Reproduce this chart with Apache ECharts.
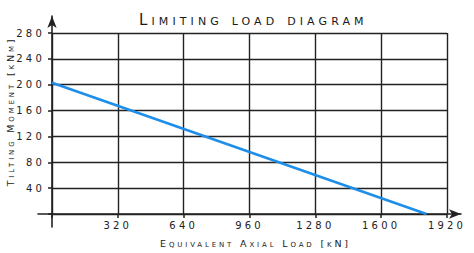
<!DOCTYPE html>
<html>
<head>
<meta charset="utf-8">
<script src="https://cdn.jsdelivr.net/npm/echarts@6/dist/echarts.min.js"></script>
<style>
html,body{margin:0;padding:0;background:#fff;}
#main{width:474px;height:253px;}
#main text{font-variant:small-caps !important;}
#main text[style*="15px"]{letter-spacing:4.1px !important;}
#main text[style*="10px"]{letter-spacing:3.2px !important;}
#main text[style*="9.5px"]{letter-spacing:2.85px !important;}
</style>
</head>
<body>
<div id="main"></div>
<script>
// Data
var titleText = 'Limiting load diagram';
var xName = 'Equivalent Axial Load [kN]';
var yName = 'Tilting Moment [kNm]';
var xTicks = [0, 320, 640, 960, 1280, 1600, 1920];
var yTicks = [0, 40, 80, 120, 160, 200, 240, 280];
var loadKN = [0, 1820];
var momentKNm = [203, 0];

var xMin = xTicks[0], xMax = xTicks[xTicks.length - 1], xStep = xTicks[1] - xTicks[0];
var yMin = yTicks[0], yMax = yTicks[yTicks.length - 1], yStep = yTicks[1] - yTicks[0];

var ink = '#222';
var fam = 'DejaVu Sans';
var chart = echarts.init(document.getElementById('main'), null, {renderer: 'svg'});
var lbl = function (v) { return v === 0 ? '' : String(v); };

chart.setOption({
  animation: false,
  backgroundColor: '#fff',
  title: {
    text: titleText, left: 134, top: 7,
    textStyle: {fontFamily: fam, fontSize: 15, fontWeight: 'normal', color: '#1a1a1a'}
  },
  grid: [
    {left: 52, right: 27, top: 33, bottom: 39, outerBoundsMode: 'none', containLabel: false},
    {left: 38, right: 13, top: 33, bottom: 39, outerBoundsMode: 'none', containLabel: false},
    {left: 52, right: 27, top: 16, bottom: 26, outerBoundsMode: 'none', containLabel: false}
  ],
  xAxis: [
    {
      gridIndex: 0, type: 'value', min: xMin, max: xMax, interval: xStep,
      name: xName, nameLocation: 'middle', nameGap: 24,
      nameTextStyle: {fontFamily: fam, fontSize: 9.5, color: ink, padding: [0, 0, 0, 12]},
      axisLine: {show: false},
      axisTick: {show: true, length: 4, lineStyle: {color: ink, width: 1.5}},
      axisLabel: {formatter: lbl, margin: 6, fontFamily: fam, fontSize: 10, color: ink},
      splitLine: {show: true, lineStyle: {color: ink, width: 1.4}}
    },
    {
      gridIndex: 1, type: 'value', min: 0, max: 1,
      axisLine: {show: true, symbol: ['none', 'arrow'], symbolSize: [7, 12], lineStyle: {color: ink, width: 1.6}},
      axisTick: {show: false}, axisLabel: {show: false}, splitLine: {show: false}
    },
    {
      gridIndex: 2, type: 'value', min: 0, max: 1, show: false
    }
  ],
  yAxis: [
    {
      gridIndex: 0, type: 'value', min: yMin, max: yMax, interval: yStep,
      name: yName, nameLocation: 'middle', nameGap: 35,
      nameTextStyle: {fontFamily: fam, fontSize: 9.5, color: ink, padding: [0, 0, 0, 24]},
      axisLine: {show: false},
      axisTick: {show: true, length: 4, lineStyle: {color: ink, width: 1.5}},
      axisLabel: {formatter: lbl, margin: 7, fontFamily: fam, fontSize: 10, color: ink},
      splitLine: {show: true, lineStyle: {color: ink, width: 1.4}}
    },
    {
      gridIndex: 1, type: 'value', min: 0, max: 1, show: false
    },
    {
      gridIndex: 2, type: 'value', min: 0, max: 1,
      axisLine: {show: true, symbol: ['none', 'arrow'], symbolSize: [7, 12], lineStyle: {color: ink, width: 1.6}},
      axisTick: {show: false}, axisLabel: {show: false}, splitLine: {show: false}
    }
  ],
  series: [{
    type: 'line', xAxisIndex: 0, yAxisIndex: 0,
    data: loadKN.map(function (x, i) { return [x, momentKNm[i]]; }),
    symbol: 'none',
    lineStyle: {color: '#1e8ee8', width: 2.6}
  }]
});
</script>
</body>
</html>
